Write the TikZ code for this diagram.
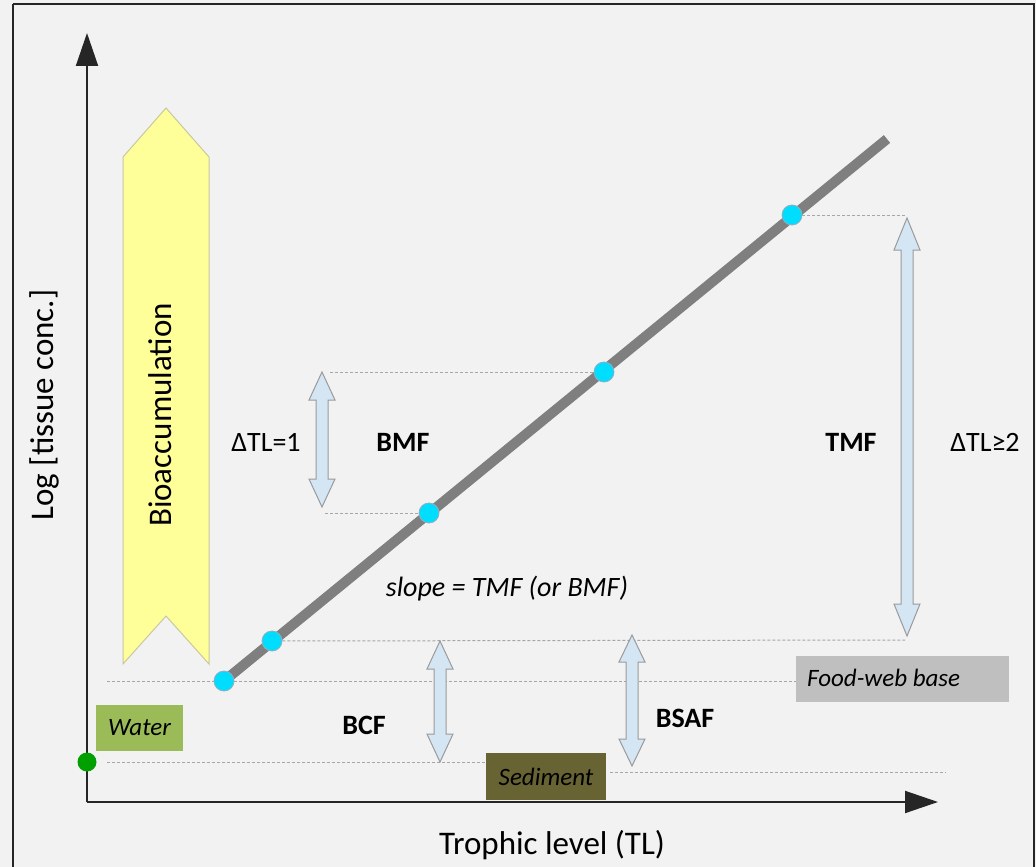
\documentclass[tikz,border=0pt]{standalone}
\usepackage{fontspec}
\setmainfont{Carlito}
\usetikzlibrary{arrows.meta}
\definecolor{paper}{HTML}{F2F2F2}
\definecolor{framecol}{HTML}{262626}
\definecolor{trend}{HTML}{7F7F7F}
\definecolor{dotfill}{HTML}{00DDFF}
\definecolor{dotline}{HTML}{8FAFBF}
\definecolor{guide}{HTML}{A6A6A6}
\definecolor{waterfill}{HTML}{9BBB59}
\definecolor{sedfill}{HTML}{676332}
\definecolor{basefill}{HTML}{BFBFBF}
\definecolor{bluefill}{HTML}{D4E5F4}
\definecolor{blueline}{HTML}{9A9A9A}
\definecolor{yellowfill}{HTML}{FFFF99}
\definecolor{yellowline}{HTML}{C8C8A0}
\definecolor{origin}{HTML}{00A000}
\tikzset{
  axis/.style={line width=2pt, draw=black!85, -{Triangle[width=22pt,length=33pt]}},
  guideline/.style={draw=guide, line width=1pt, dash pattern=on 3pt off 2pt},
  sample/.style={circle, fill=dotfill, draw=dotline, line width=0.8pt, minimum size=20pt, inner sep=0pt},
  blockarrow/.style={fill=bluefill, draw=blueline, line width=1pt, line join=miter},
  label/.style={font=\fontsize{28}{32}\selectfont, text=black, inner sep=0pt},
  factor/.style={label, font=\fontsize{28}{32}\selectfont\bfseries},
  title/.style={label, font=\fontsize{33}{38}\selectfont},
  tag/.style={font=\fontsize{25}{29}\selectfont\itshape, text=black, inner sep=0pt},
}
% vertical double-headed block arrow: x, top tip, bottom tip, head length
\newcommand\vdarrow[4]{%
  \draw[blockarrow] (#1,#2) -- ++(13,#4) -- ++(-7,0) -- (#1+6,#3-#4) -- ++(7,0)
    -- (#1,#3) -- ++(-13,-#4) -- ++(7,0) -- (#1-6,#2+#4) -- ++(-7,0) -- cycle;}
\begin{document}
\begin{tikzpicture}[x=1pt,y=-1pt]
\useasboundingbox (0,0) rectangle (1036,867);
\fill[paper] (0,0) rectangle (1036,867);
\draw[framecol, line width=2pt] (13,4) -- (1034,4) -- (1034,880);
\draw[framecol, line width=2pt] (13,4) -- (13,880);

% bioaccumulation band
\draw[fill=yellowfill, draw=yellowline, line width=1pt]
  (166,108) -- (209,157) -- (209,664) -- (166,616) -- (123,664) -- (123,157) -- cycle;
\node[title, rotate=90] (bio) at (160,415) {Bioaccumulation};

% sample points on the regression line
\coordinate (lineend) at (887,139);
\coordinate (d1p) at (224,681);
\draw[trend, line width=10pt] (d1p) -- (lineend);
\node[sample] (d1) at (224,681) {};
\node[sample] (d2) at (272,641) {};
\node[sample] (d3) at (429,513) {};
\node[sample] (d4) at (604,372) {};
\node[sample] (d5) at (792,215) {};

% guide lines
\coordinate (g1a) at (107,762);  \coordinate (g1b) at (486,762);
\coordinate (g2a) at (610,772);  \coordinate (g2b) at (946,772);
\coordinate (g3a) at (107,681);  \coordinate (g3b) at (796,681);
\coordinate (g4b) at (905,640);
\coordinate (g5a) at (325,513);
\coordinate (g6a) at (330,372);
\coordinate (g7b) at (907,215);
\draw[guideline] (g1a) -- (g1b);
\draw[guideline] (g2a) -- (g2b);
\draw[guideline] (g3a) -- (d1);
\draw[guideline] (d1) -- (g3b);
\draw[guideline] (d2) -- (g4b);
\draw[guideline] (g5a) -- (d3);
\draw[guideline] (g6a) -- (d4);
\draw[guideline] (d5) -- (g7b);

% axes
\coordinate (o) at (87,802);
\coordinate (ytip) at (87,33);
\coordinate (xtip) at (938,802);
\draw[axis] (o) -- (ytip);
\draw[axis] (o) -- (xtip);
\node[circle, fill=origin, minimum size=19pt, inner sep=0pt] (origin) at (87,762) {};

% compartment boxes
\node[fill=waterfill, minimum width=87pt, minimum height=46pt, inner sep=0pt] (water) at (139.5,728) {};
\node[tag] at (water) {Water};
\node[fill=sedfill, minimum width=120pt, minimum height=47pt, inner sep=0pt] (sed) at (546,776.5) {};
\node[tag] at (sed) {Sediment};
\node[fill=basefill, minimum width=213pt, minimum height=46pt, inner sep=0pt] (base) at (902.5,679) {};
\node[tag, anchor=west] at (807,678) {Food-web base};

% factor arrows
\vdarrow{322}{372}{507}{28}
\vdarrow{907}{218}{636}{32}
\vdarrow{440}{641}{762}{28}
\vdarrow{632}{635}{766}{27}

% labels
\node[label] (dtl1) at (266,442) {ΔTL=1};
\node[factor] (bmf) at (403,442) {BMF};
\node[factor] (tmf) at (851,442) {TMF};
\node[label] (dtl2) at (985,442) {ΔTL≥2};
\node[label, font=\fontsize{28}{32}\selectfont\itshape] (slope) at (507,589) {slope = TMF (or BMF)};
\node[factor] (bcf) at (364,725) {BCF};
\node[factor] (bsaf) at (685,718) {BSAF};
\node[title] (xlab) at (552,845) {Trophic level (TL)};
\node[title, rotate=90] (ylab) at (44,405) {Log [tissue conc.]};
\end{tikzpicture}
\end{document}
